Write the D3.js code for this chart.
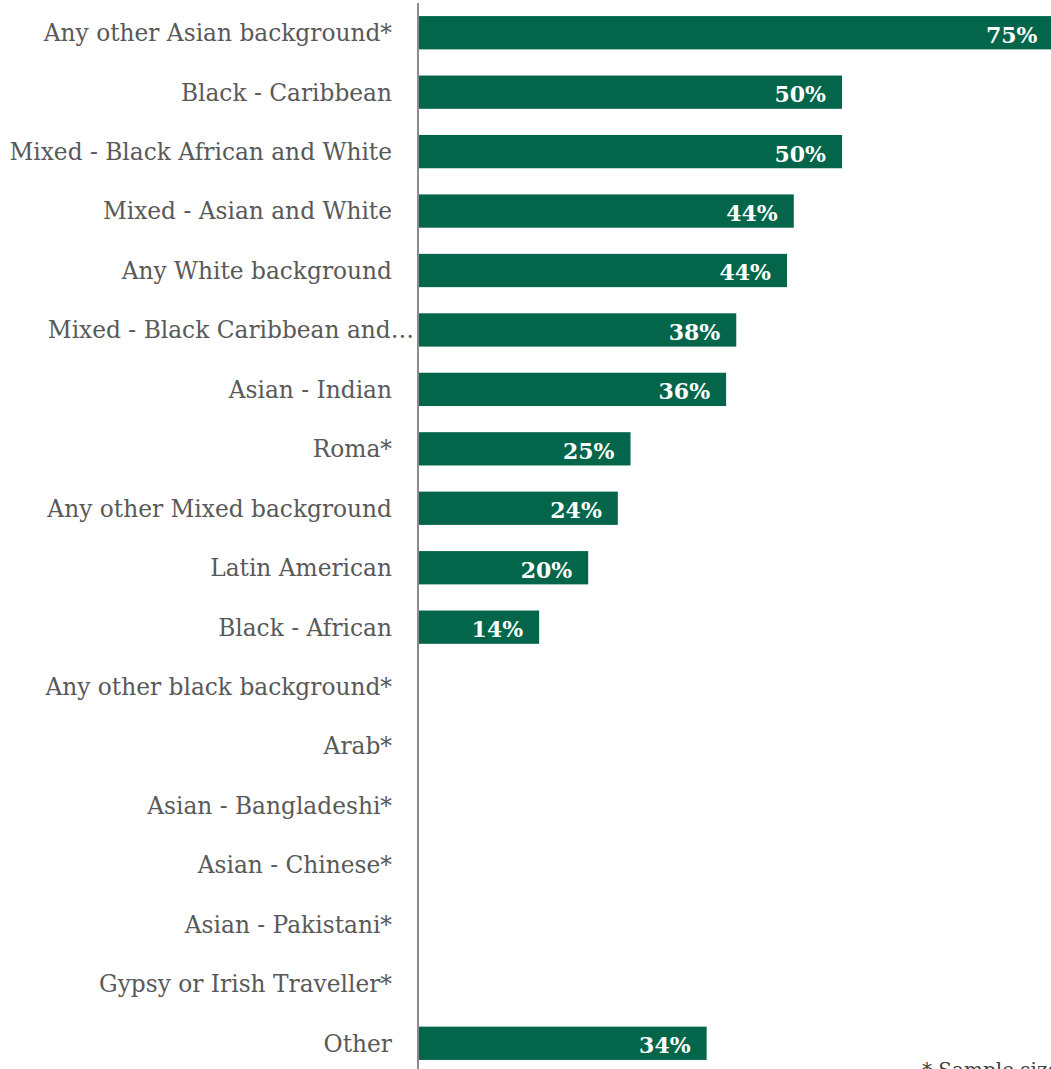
<!DOCTYPE html>
<html>
<head>
<meta charset="utf-8">
<script src="https://cdn.jsdelivr.net/npm/d3@7"></script>
<style>
  html, body { margin: 0; padding: 0; background: #ffffff; }
  svg { display: block; }
</style>
</head>
<body>
<svg id="chart" width="1051" height="1069"></svg>
<script>
// Ethnic groups, top to bottom
const categories = [
  "Any other Asian background*",
  "Black - Caribbean",
  "Mixed - Black African and White",
  "Mixed - Asian and White",
  "Any White background",
  "Mixed - Black Caribbean and White",
  "Asian - Indian",
  "Roma*",
  "Any other Mixed background",
  "Latin American",
  "Black - African",
  "Any other black background*",
  "Arab*",
  "Asian - Bangladeshi*",
  "Asian - Chinese*",
  "Asian - Pakistani*",
  "Gypsy or Irish Traveller*",
  "Other"
];

// Text shown on the category axis (long names are cut short)
const tickLabels = [
  "Any other Asian background*",
  "Black - Caribbean",
  "Mixed - Black African and White",
  "Mixed - Asian and White",
  "Any White background",
  "Mixed - Black Caribbean and\u2026",
  "Asian - Indian",
  "Roma*",
  "Any other Mixed background",
  "Latin American",
  "Black - African",
  "Any other black background*",
  "Arab*",
  "Asian - Bangladeshi*",
  "Asian - Chinese*",
  "Asian - Pakistani*",
  "Gypsy or Irish Traveller*",
  "Other"
];

// Percentage per group (null = no bar shown)
const values = [75, 50, 50, 44.3, 43.5, 37.5, 36.3, 25, 23.5, 20, 14.2,
                null, null, null, null, null, null, 34];

const footnote = "* Sample size too small";

const svg = d3.select("#chart");
const W = 1051, H = 1069;
const axisX = 418;
const serif = "'DejaVu Serif', 'Liberation Serif', serif";

const y = d3.scaleBand()
  .domain(categories)
  .range([3, 1073])
  .paddingInner(0.44)
  .paddingOuter(0.22);

const x = d3.scaleLinear()
  .domain([0, 100])
  .range([axisX + 1, axisX + 1 + 846]);

const rows = categories.map((c, i) => ({ cat: c, label: tickLabels[i], value: values[i] }));

// bars
svg.append("g")
  .selectAll("rect")
  .data(rows.filter(d => d.value != null))
  .join("rect")
  .attr("x", x(0))
  .attr("y", d => y(d.cat))
  .attr("width", d => x(d.value) - x(0))
  .attr("height", y.bandwidth())
  .attr("fill", "#03664a");

// value labels inside bar ends
svg.append("g")
  .selectAll("text")
  .data(rows.filter(d => d.value != null))
  .join("text")
  .attr("x", d => x(d.value) - 16)
  .attr("y", d => y(d.cat) + y.bandwidth() / 2 + 2)
  .attr("dy", "0.36em")
  .attr("text-anchor", "end")
  .attr("font-family", serif)
  .attr("font-weight", "bold")
  .attr("font-size", 22)
  .attr("fill", "#ffffff")
  .text(d => Math.round(d.value) + "%");

// category axis
const yAxis = d3.axisLeft(y)
  .tickSize(0)
  .tickPadding(26)
  .tickFormat((c, i) => tickLabels[i]);

const gAxis = svg.append("g")
  .attr("transform", `translate(${axisX},0)`)
  .call(yAxis);

gAxis.select(".domain")
  .attr("stroke", "#8c8c8c")
  .attr("stroke-width", 2)
  .attr("d", `M0,3V${H + 10}`);

gAxis.selectAll(".tick text")
  .attr("font-family", serif)
  .attr("font-size", 23.3)
  .attr("fill", "#595959")
  .attr("dy", "0.36em")
  .attr("x", function(c, i) { return tickLabels[i].endsWith("\u2026") ? -4 : -26; });

// footnote
svg.append("text")
  .attr("x", 922)
  .attr("y", 1077)
  .attr("font-family", serif)
  .attr("font-size", 20)
  .attr("fill", "#404040")
  .text(footnote);
</script>
</body>
</html>
